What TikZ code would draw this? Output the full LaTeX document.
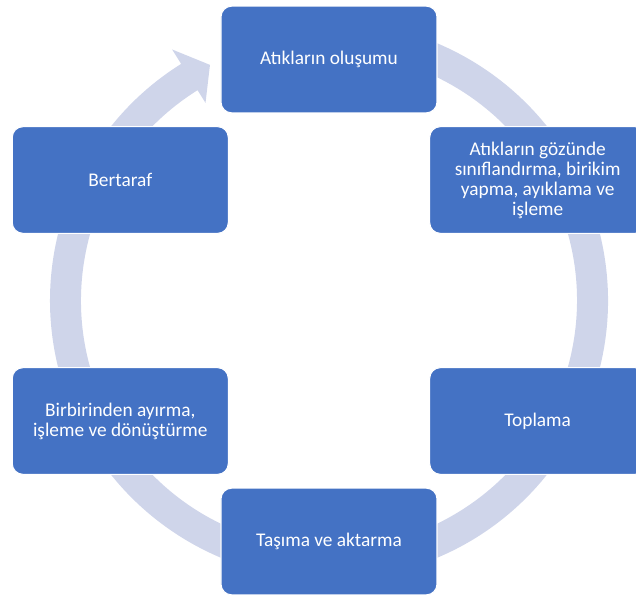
\documentclass[tikz,border=0pt]{standalone}
\usepackage{fontspec}
\setmainfont{Carlito}
\begin{document}
\begin{tikzpicture}[x=0.75pt, y=0.75pt,
        box/.style={rectangle, rounded corners=8pt, draw=white, line width=0.8pt,
            fill=stepblue, text=white, minimum width=162pt, minimum height=80pt,
            align=center, font=\fontsize{14.5}{15}\selectfont}]
        \definecolor{stepblue}{HTML}{4472C4}
        \definecolor{ringblue}{HTML}{CFD5EA}
        \clip (-329, -296.5) rectangle (307, 300.5);

        % cycle ring with its head
        \fill[ringblue] (100:279) arc[start angle=100, end angle=-238, radius=279]
            -- (122:296) -- (116.8:264) -- (122:233) -- (122:248)
            arc[start angle=-238, end angle=100, radius=248] -- cycle;

        \node (step-1) at (90:241) [box] {Atıkların oluşumu};
        \node (step-2) at (30:241) [box] {Atıkların gözünde\\sınıflandırma, birikim\\yapma, ayıklama ve\\işleme};
        \node (step-3) at (-30:241) [box] {Toplama};
        \node (step-4) at (-90:241) [box] {Taşıma ve aktarma};
        \node (step-5) at (-150:241) [box] {Birbirinden ayırma,\\işleme ve dönüştürme};
        \node (step-6) at (150:241) [box] {Bertaraf};

    \end{tikzpicture}
\end{document}
